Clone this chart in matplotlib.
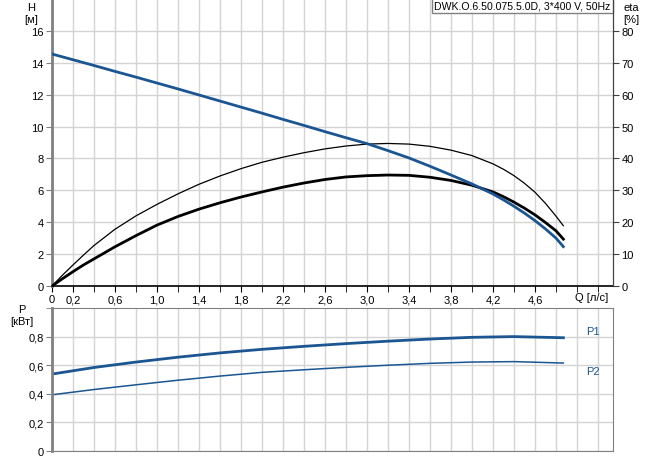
import matplotlib
matplotlib.use('Agg')
import matplotlib.pyplot as plt

plt.rcParams['font.family'] = ['Liberation Sans', 'DejaVu Sans']
plt.rcParams['font.size'] = 8

# flow points [l/s]
q = [0.0, 0.1, 0.2, 0.3, 0.4, 0.6, 0.8, 1.0, 1.2, 1.4, 1.6, 1.8, 2.0, 2.2,
     2.4, 2.6, 2.8, 3.0, 3.2, 3.4, 3.6, 3.8, 4.0, 4.2, 4.3, 4.4, 4.5, 4.6,
     4.7, 4.8, 4.87]
head = [14.55, 14.37, 14.19, 14.01, 13.83, 13.46, 13.1, 12.73, 12.36, 11.98,
        11.6, 11.22, 10.84, 10.45, 10.07, 9.68, 9.3, 8.93, 8.49, 8.03, 7.51,
        6.96, 6.4, 5.77, 5.4, 5.0, 4.57, 4.1, 3.58, 3.0, 2.47]
eta_thin = [0.0, 3.4, 6.6, 9.7, 12.7, 17.8, 22.0, 25.6, 28.9, 31.9, 34.5,
            36.8, 38.8, 40.4, 41.8, 43.0, 43.9, 44.5, 44.7, 44.5, 43.8, 42.6,
            40.9, 38.3, 36.6, 34.6, 32.2, 29.4, 25.9, 21.9, 18.9]
eta_thick = [0.0, 2.3, 4.5, 6.6, 8.5, 12.3, 15.8, 19.1, 21.8, 24.1, 26.1,
             27.9, 29.5, 31.0, 32.3, 33.4, 34.2, 34.6, 34.8, 34.7, 34.1, 33.1,
             31.6, 29.5, 28.0, 26.3, 24.4, 22.3, 19.9, 17.3, 14.7]

q_p = [0.0, 0.4, 0.8, 1.2, 1.6, 2.0, 2.4, 2.8, 3.2, 3.6, 4.0, 4.4, 4.87]
p1 = [0.538, 0.584, 0.622, 0.656, 0.686, 0.711, 0.732, 0.751, 0.768, 0.783,
      0.795, 0.80, 0.792]
p2 = [0.393, 0.43, 0.463, 0.495, 0.524, 0.55, 0.568, 0.585, 0.600, 0.613,
      0.622, 0.625, 0.615]

q_ticks = [0, 0.2, 0.6, 1.0, 1.4, 1.8, 2.2, 2.6, 3.0, 3.4, 3.8, 4.2, 4.6]
title = 'DWK.O.6.50.075.5.0D, 3*400 V, 50Hz'

blue = '#1b5592'
grid_c = '#d4d4d4'
spine_c = '#808080'

W, H = 656, 460
fig = plt.figure(figsize=(W / 100, H / 100), dpi=100)
ax = fig.add_axes([52 / W, 1 - 287 / H, 561 / W, 287 / H])
axp = fig.add_axes([52 / W, 1 - 452 / H, 561 / W, 143 / H])

xmax = 561 / 105
grid_x = [i * 0.2 for i in range(27)]

# --- top: head + efficiency ---
ax.set_xlim(0, xmax)
ax.set_ylim(0, 18)
ax.set_xticks(grid_x, minor=True)
ax.set_xticks(q_ticks)
ax.set_xticklabels(['0' if t == 0 else ('%.1f' % t).replace('.', ',') for t in q_ticks])
ax.set_yticks(range(0, 17, 2))
ax.grid(True, which='both', color=grid_c, lw=1)
ax.set_axisbelow(True)
ax.tick_params(axis='x', which='both', length=4, color='black', pad=2)
ax.tick_params(axis='y', length=4, color=spine_c, pad=2)
ax.spines['top'].set_visible(False)
ax.spines['left'].set_color(spine_c)
ax.spines['left'].set_linewidth(2)
ax.spines['bottom'].set_color('black')
ax.spines['bottom'].set_linewidth(1.2)
ax.spines['right'].set_color('#404040')

ax2 = ax.twinx()
ax2.set_ylim(0, 90)
ax2.set_yticks(range(0, 81, 10))
ax2.tick_params(axis='y', length=4, color='#404040', pad=2)
for s in ['top', 'left', 'bottom']:
    ax2.spines[s].set_visible(False)
ax2.spines['right'].set_color('#404040')
ax2.plot(q, eta_thin, color='black', lw=0.9)
ax2.plot(q, eta_thick, color='black', lw=2)
# head curve drawn on the eta axes scale so it sits on top
ax2.plot(q, [h * 5 for h in head], color=blue, lw=2)

fig.text(31 / W, 1 - 3 / H, 'H\n[м]', ha='center', va='top', fontsize=8,
         linespacing=1.25)
fig.text(631 / W, 1 - 3 / H, 'eta\n[%]', ha='center', va='top', fontsize=8,
         linespacing=1.25)
fig.text(592 / W, 1 - 298 / H, 'Q [л/с]', ha='center', va='center', fontsize=8)
ax.text(0.996, 0.996, title, transform=ax.transAxes, ha='right', va='top',
        fontsize=7.6, bbox=dict(boxstyle='square,pad=0.25', fc='white',
                                ec='#808080', lw=1))

# --- bottom: power ---
axp.set_xlim(0, xmax)
axp.set_ylim(0, 1.0)
axp.set_xticks(grid_x)
axp.set_xticklabels([])
axp.tick_params(axis='x', length=0)
axp.set_yticks([0, 0.2, 0.4, 0.6, 0.8])
axp.set_yticklabels(['0', '0,2', '0,4', '0,6', '0,8'])
axp.set_yticks([1.0], minor=True)
axp.tick_params(axis='y', which='both', length=4, color=spine_c, pad=2)
axp.grid(True, color=grid_c, lw=1)
axp.set_axisbelow(True)
for s in ['top', 'right', 'bottom']:
    axp.spines[s].set_color(spine_c)
axp.spines['left'].set_color(spine_c)
axp.spines['left'].set_linewidth(2)

axp.plot(q_p, p1, color=blue, lw=2)
axp.plot(q_p, p2, color=blue, lw=1.1)
axp.text(5.09, 0.84, 'P1', color=blue, ha='left', va='center', fontsize=8)
axp.text(5.09, 0.56, 'P2', color=blue, ha='left', va='center', fontsize=8)
fig.text(22 / W, 1 - 305 / H, 'P\n[кВт]', ha='center', va='top', fontsize=8,
         linespacing=1.25)

fig.savefig('out.png', dpi=100)
